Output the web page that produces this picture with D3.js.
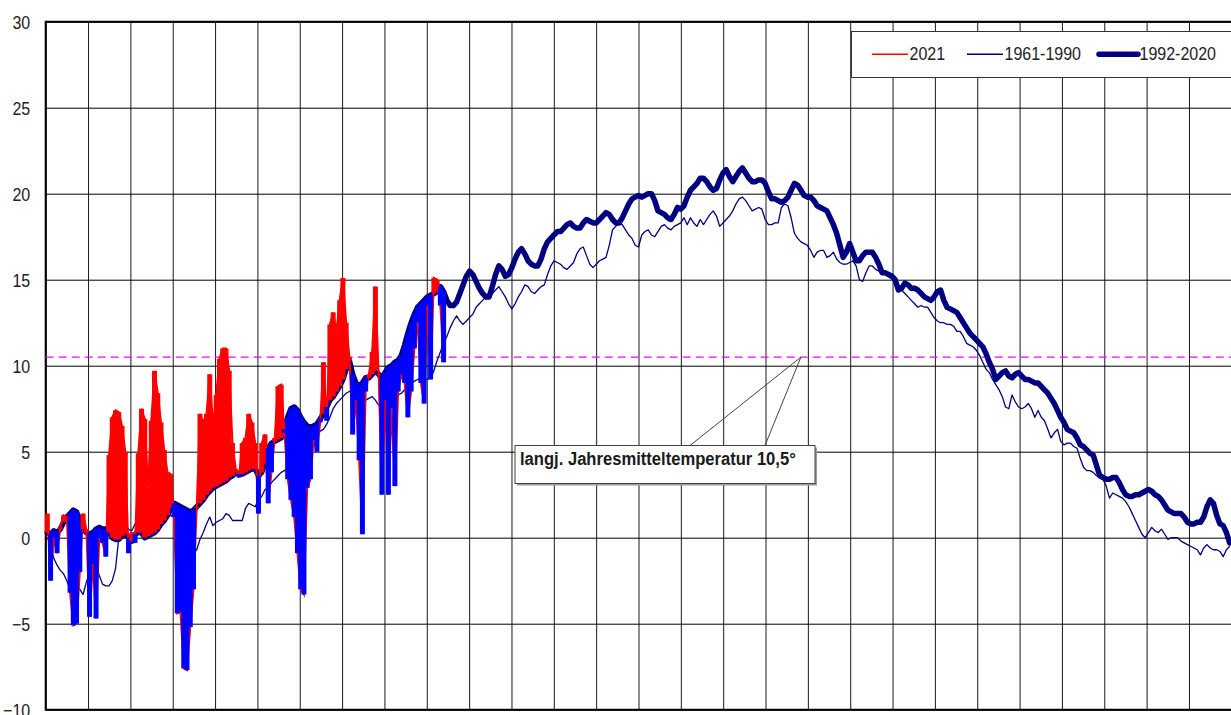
<!DOCTYPE html>
<html>
<head>
<meta charset="utf-8">
<script src="https://cdn.jsdelivr.net/npm/d3@7"></script>
<style>
  html, body { margin: 0; padding: 0; background: #fff; }
  svg { display: block; font-family: Arial, "Liberation Sans", sans-serif; }
</style>
</head>
<body>
<svg id="chart" width="1231" height="715"></svg>
<script>
// Tagesmitteltemperatur: 2021 gegen die Mittel 1961-1990 und 1992-2020

const dayCount = 365;
const gridSections = 28;
const yTicks = [-10, -5, 0, 5, 10, 15, 20, 25, 30];
const seriesNames = ["2021", "1961-1990", "1992-2020"];
const annualMean = 10.5;
const annotationText = "langj. Jahresmitteltemperatur 10,5°";

// 2021, Tageswerte ab 1. Januar
const t2021 = [
  1.4, -2.5, 0.0, -0.9, 0.6, 1.3, 1.2, -3.2, -5.1, -5.0,
  -2.0, 1.4, 0.5, -4.6, -1.5, -4.7, 0.0, -0.3, -1.1, 4.8,
  7.0, 7.4, 7.3, 6.5, 5.0, -0.9, 0.3, -0.3, 4.9, 7.5,
  6.9, 2.9, 6.8, 9.7, 8.4, 6.7, 5.1, 3.8, 3.7, 1.2,
  -4.4, -4.3, -7.6, -7.7, -5.2, -3.0, 1.8, 7.2, 6.7, 7.2,
  9.5, 6.5, 8.3, 10.4, 11.0, 11.0, 9.7, 5.5, 4.0, 3.5,
  5.5, 5.8, 7.2, 6.7, 5.5, 1.4, 5.5, 6.0, 2.0, 3.8,
  5.8, 8.8, 8.9, 6.1, 3.4, 2.2, 1.2, -0.9, -3.0, -3.3,
  2.9, 3.4, 5.7, 5.0, 6.7, 10.2, 6.8, 12.4, 13.1, 12.0,
  13.8, 15.1, 12.5, 10.5, 6.0, 8.0, 4.5, 0.2, 8.5, 9.5,
  10.8, 14.6, 9.5, 2.5, 8.0, 2.5, 7.5, 3.0, 8.5, 9.5,
  9.0, 7.0, 8.5, 11.0, 12.5, 9.0, 7.8, 13.5, 9.2, 15.1,
  15.0, 13.5, 10.2
];

// Mittel 1961-1990
const n6190 = [
  0.0, -0.4, -1.2, -1.6, -1.9, -2.1, -2.5, -3.0, -2.7, -2.9,
  -3.0, -3.3, -2.6, -2.0, -1.4, -1.6, -2.2, -2.7, -2.8, -2.8,
  -2.5, -1.8, 0.0, 0.5, 0.7, 0.5, 0.4, 0.8, 0.9, 0.8,
  0.7, 0.9, 1.0, 1.1, 1.2, 1.3, 1.1, 1.2, 1.3, 1.2,
  1.0, 0.6, 0.2, -0.3, -0.8, -0.9, -0.7, -0.1, 0.3, 0.8,
  1.2, 0.7, 0.9, 1.0, 1.1, 1.4, 1.3, 1.0, 1.0, 1.0,
  1.0, 1.7, 2.0, 1.9, 1.8, 2.2, 2.4, 2.8, 2.9, 3.2,
  3.4, 3.6, 3.8, 3.9, 4.1, 4.2, 4.5, 4.8, 4.9, 5.1,
  5.3, 5.5, 5.7, 5.9, 6.2, 6.3, 6.6, 7.0, 7.5, 7.8,
  8.0, 8.2, 8.4, 8.5, 8.6, 8.6, 8.8, 8.5, 8.0, 8.1,
  8.2, 8.0, 7.7, 7.6, 7.7, 7.8, 7.8, 8.0, 8.3, 8.4,
  8.6, 8.9, 9.0, 9.1, 9.2, 9.3, 9.2, 9.2, 9.3, 9.7,
  10.3, 10.8, 11.3, 11.7, 12.2, 12.6, 12.9, 12.6, 12.4, 12.6,
  12.8, 13.0, 13.4, 13.6, 13.8, 14.0, 14.1, 14.2, 14.4, 14.6,
  14.3, 14.0, 13.6, 13.3, 13.6, 14.0, 14.3, 14.7, 14.6, 14.3,
  14.2, 14.4, 14.6, 14.7, 15.3, 15.8, 16.1, 16.0, 15.9, 15.7,
  15.6, 15.8, 16.0, 16.5, 16.8, 16.9, 16.4, 15.9, 15.7, 15.9,
  16.1, 16.2, 16.3, 17.0, 17.9, 18.1, 18.3, 18.2, 17.9, 17.6,
  17.4, 17.0, 16.9, 17.6, 17.8, 17.9, 17.6, 17.5, 17.8, 18.1,
  18.2, 18.0, 17.9, 18.1, 18.2, 18.3, 18.6, 18.2, 18.6, 18.3,
  18.1, 18.5, 18.2, 18.5, 18.8, 19.0, 18.7, 18.1, 18.3, 18.5,
  18.7, 19.0, 19.4, 19.7, 19.8, 19.6, 19.3, 19.0, 19.1, 19.2,
  19.1, 18.5, 18.2, 18.2, 18.3, 18.3, 19.2, 19.4, 19.3, 18.6,
  17.7, 17.4, 17.2, 17.1, 17.0, 16.7, 16.3, 16.6, 16.7, 16.7,
  16.3, 16.4, 16.6, 16.2, 16.0, 15.9, 15.9, 16.0, 16.1, 15.8,
  15.0, 14.9, 15.4, 15.8, 15.8, 15.6, 15.5, 15.5, 15.3, 15.2,
  15.1, 14.9, 14.6, 14.4, 14.2, 14.0, 13.8, 13.6, 13.4, 13.5,
  13.4, 13.4, 13.1, 12.8, 12.6, 12.5, 12.5, 12.4, 12.4, 12.3,
  12.0, 12.0, 11.7, 11.3, 11.2, 11.1, 10.9, 10.6, 10.2, 9.8,
  9.6, 9.2, 8.9, 8.6, 8.2, 7.6, 7.5, 8.3, 7.9, 7.6,
  7.5, 7.6, 7.8, 7.5, 7.0, 7.4, 7.0, 6.8, 6.3, 5.8,
  6.1, 6.3, 5.6, 5.4, 5.5, 5.5, 5.3, 5.2, 4.6, 4.1,
  3.9, 3.9, 3.8, 3.6, 3.5, 3.4, 3.0, 2.3, 2.6, 2.5,
  2.4, 2.3, 2.1, 1.8, 1.4, 1.0, 0.6, 0.2, 0.0, 0.3,
  0.6, 0.4, 0.3, 0.5, 0.2, -0.1, 0.0, 0.0, 0.0, -0.2,
  -0.3, -0.4, -0.5, -0.6, -0.7, -1.0, -0.6, -0.4, -0.6, -0.7,
  -0.7, -0.8, -1.1, -0.7, -0.5
];

// Mittel 1992-2020
const n9220 = [
  0.3, 0.2, 0.4, 0.3, 0.5, 0.9, 1.2, 1.4, 1.6, 1.5,
  1.0, 0.5, 0.3, 0.2, 0.3, 0.5, 0.6, 0.5, 0.5, 0.3,
  0.0, -0.1, -0.1, 0.1, 0.2, 0.0, -0.2, 0.2, 0.3, 0.3,
  0.0, 0.1, 0.2, 0.3, 0.5, 0.8, 1.0, 1.3, 1.7, 2.0,
  1.9, 1.8, 1.7, 1.6, 1.5, 1.6, 1.8, 2.0, 2.2, 2.5,
  2.7, 2.9, 3.0, 3.1, 3.2, 3.3, 3.5, 3.6, 3.8, 3.7,
  3.7, 3.8, 3.9, 4.0, 4.0, 3.6, 3.8, 4.3, 5.2, 5.5,
  5.6, 5.7, 5.8, 6.3, 7.0, 7.5, 7.6, 7.4, 7.0, 6.7,
  6.5, 6.4, 6.5, 6.6, 6.9, 7.2, 7.6, 8.0, 8.2, 8.5,
  8.8, 9.2, 9.8, 10.3, 9.5, 9.0, 8.8, 9.0, 9.3, 9.3,
  9.5, 9.7, 9.5, 9.3, 9.6, 9.9, 10.0, 10.2, 10.3, 10.6,
  11.2, 11.9, 12.5, 13.0, 13.4, 13.6, 13.8, 14.0, 14.1, 14.2,
  14.3, 14.6, 14.3, 13.8, 13.5, 13.5, 13.7, 14.2, 14.7, 15.2,
  15.5, 15.3, 14.9, 14.5, 14.2, 14.0, 14.0, 14.6, 15.3, 15.8,
  15.6, 15.2, 15.3, 15.7, 16.2, 16.6, 16.8, 16.5, 16.1, 15.9,
  15.8, 15.8, 16.2, 16.8, 17.2, 17.4, 17.6, 17.8, 17.8, 18.0,
  18.2, 18.3, 18.1, 18.0, 18.0, 18.3, 18.5, 18.4, 18.3, 18.3,
  18.5, 18.7, 18.9, 18.8, 18.5, 18.3, 18.3, 18.6, 19.0, 19.4,
  19.7, 19.8, 19.9, 19.8, 19.9, 20.0, 20.0, 19.6, 19.0, 18.9,
  18.8, 18.6, 18.5, 18.8, 19.2, 19.1, 19.3, 19.8, 20.2, 20.4,
  20.6, 20.9, 20.9, 20.7, 20.4, 20.2, 20.3, 20.8, 21.2, 21.4,
  21.0, 20.7, 21.0, 21.3, 21.5, 21.2, 20.9, 20.7, 20.7, 20.8,
  20.8, 20.6, 20.1, 19.7, 19.7, 19.6, 19.5, 19.6, 19.8, 20.2,
  20.6, 20.5, 20.2, 19.9, 19.8, 19.8, 19.6, 19.3, 19.2, 19.1,
  19.0, 18.6, 18.2, 17.7, 17.0, 16.3, 16.6, 17.1, 16.6, 16.1,
  16.1, 16.4, 16.6, 16.6, 16.6, 16.3, 15.9, 15.4, 15.4, 15.3,
  15.2, 15.0, 14.4, 14.5, 14.8, 14.7, 14.5, 14.5, 14.4, 14.2,
  14.0, 13.9, 13.8, 14.0, 14.3, 14.4, 13.8, 13.4, 13.3, 13.2,
  13.1, 12.8, 12.5, 12.2, 11.9, 11.7, 11.5, 11.3, 11.1, 10.7,
  10.2, 9.8, 9.2, 9.4, 9.6, 9.7, 9.4, 9.3, 9.5, 9.6,
  9.4, 9.2, 9.2, 9.1, 9.0, 9.0, 8.8, 8.6, 8.4, 8.1,
  7.8, 7.4, 7.0, 6.7, 6.3, 6.2, 6.1, 5.8, 5.4, 5.3,
  5.1, 4.9, 4.8, 4.2, 3.6, 3.5, 3.4, 3.4, 3.5, 3.5,
  3.2, 2.8, 2.5, 2.4, 2.4, 2.5, 2.5, 2.6, 2.7, 2.8,
  2.7, 2.5, 2.4, 2.2, 1.9, 1.6, 1.5, 1.4, 1.4, 1.4,
  1.2, 0.9, 0.8, 0.8, 0.9, 0.9, 1.2, 1.8, 2.2, 2.0,
  1.3, 0.8, 0.7, 0.3, -0.3
];

const svg = d3.select("#chart");
const W = 1231, H = 715;
const plot = { left: 45.7, right: 1231.3, top: 21.7, bottom: 709.7 };

svg.append("rect").attr("width", W).attr("height", H).attr("fill", "#fff");

const x = d3.scaleLinear().domain([0, dayCount]).range([plot.left, plot.right]);
const y = d3.scaleLinear().domain([-10, 30]).range([plot.bottom, plot.top]);
const dayX = d => x(d + 0.5);

// vertical grid
const xGrid = d3.range(gridSections + 1).map(i => i * dayCount / gridSections);
svg.append("g")
  .attr("transform", `translate(0,${plot.bottom})`)
  .call(d3.axisBottom(x).tickValues(xGrid).tickSize(-(plot.bottom - plot.top)).tickFormat(""))
  .call(g => g.select(".domain").remove())
  .call(g => g.selectAll("line").attr("stroke", "#1a1a1a").attr("stroke-width", 1));

// horizontal grid + labels
svg.append("g")
  .attr("transform", `translate(${plot.left},0)`)
  .call(d3.axisLeft(y).tickValues(yTicks).tickSize(-(plot.right - plot.left)).tickPadding(15.5).tickFormat(d3.format("d")))
  .call(g => g.select(".domain").remove())
  .call(g => g.selectAll("line").attr("stroke", "#000").attr("stroke-width", 1))
  .call(g => g.selectAll("text")
    .attr("fill", "#222").attr("font-size", 16)
    .attr("font-family", "Arial, 'Liberation Sans', sans-serif")
    .attr("dy", "0.36em")
    .attr("transform", "scale(1,1.13)"));

// frame
svg.append("line").attr("x1", plot.left).attr("x2", plot.left)
  .attr("y1", plot.top - 1).attr("y2", plot.bottom + 1).attr("stroke", "#000").attr("stroke-width", 2);
svg.append("line").attr("x1", plot.left).attr("x2", plot.right)
  .attr("y1", plot.top).attr("y2", plot.top).attr("stroke", "#000").attr("stroke-width", 2);
svg.append("line").attr("x1", plot.left).attr("x2", plot.right)
  .attr("y1", plot.bottom).attr("y2", plot.bottom).attr("stroke", "#000").attr("stroke-width", 2);

// long-term annual mean
svg.append("line")
  .attr("x1", plot.left).attr("x2", plot.right)
  .attr("y1", y(annualMean)).attr("y2", y(annualMean))
  .attr("stroke", "#ff00ff").attr("stroke-width", 1.3).attr("stroke-dasharray", "8,5");

const line = d3.line().x((v, i) => dayX(i)).y(v => y(v));

// 1961-1990
svg.append("path").datum(n6190)
  .attr("d", line).attr("fill", "none")
  .attr("stroke", "#000080").attr("stroke-width", 1.3).attr("stroke-linejoin", "round");

// 1992-2020
svg.append("path").datum(n9220)
  .attr("d", line).attr("fill", "none")
  .attr("stroke", "#000080").attr("stroke-width", 5.5)
  .attr("stroke-linejoin", "round").attr("stroke-linecap", "round");

// 2021 line
svg.append("path").datum(t2021)
  .attr("d", line).attr("fill", "none")
  .attr("stroke", "#ff0000").attr("stroke-width", 2);

// deviation bars 2021 vs 1992-2020
const barW = 5;
svg.append("g").selectAll("rect")
  .data(t2021.map((v, i) => ({ i, v, n: n9220[i] })))
  .join("rect")
  .attr("x", d => dayX(d.i) - barW / 2)
  .attr("width", barW)
  .attr("y", d => y(Math.max(d.v, d.n)))
  .attr("height", d => Math.max(1, Math.abs(y(d.v) - y(d.n))))
  .attr("fill", d => d.v >= d.n ? "#ff0000" : "#0000ff");

// annotation callout
const tipX = x(232.5), tipY = y(annualMean);
const bx0 = 515, bx1 = 815, by0 = 445.5, by1 = 483.5;
svg.append("rect").attr("x", bx0 + 2).attr("y", by0 + 2).attr("width", bx1 - bx0).attr("height", by1 - by0)
  .attr("fill", "#9a9a9a");
svg.append("rect").attr("x", bx0).attr("y", by0).attr("width", bx1 - bx0).attr("height", by1 - by0)
  .attr("fill", "#fff").attr("stroke", "#444").attr("stroke-width", 1);
svg.append("path")
  .attr("d", `M690,${by0} L${tipX},${tipY} L765,${by0}`)
  .attr("fill", "none").attr("stroke", "#444").attr("stroke-width", 1);
svg.append("text")
  .attr("transform", "translate(520,465) scale(1,1.12)")
  .attr("font-size", 16.6).attr("font-weight", "bold").attr("fill", "#1a1a1a")
  .text(annotationText);

// legend
const lg = svg.append("g");
lg.append("rect").attr("x", 851.5).attr("y", 31.5).attr("width", 420).attr("height", 46)
  .attr("fill", "#fff").attr("stroke", "#333").attr("stroke-width", 1);
const legendItems = [
  { name: seriesNames[0], x0: 872, x1: 908, color: "#ff0000", w: 1.6 },
  { name: seriesNames[1], x0: 967, x1: 1003, color: "#000080", w: 1.5 },
  { name: seriesNames[2], x0: 1099, x1: 1138, color: "#000080", w: 5.5 }
];
legendItems.forEach(it => {
  lg.append("line").attr("x1", it.x0).attr("x2", it.x1).attr("y1", 54.3).attr("y2", 54.3)
    .attr("stroke", it.color).attr("stroke-width", it.w).attr("stroke-linecap", it.w > 3 ? "round" : "butt");
  lg.append("text").attr("transform", `translate(${it.x1 + 1.5},60) scale(1,1.13)`)
    .attr("font-size", 16).attr("fill", "#222").text(it.name);
});
</script>
</body>
</html>
